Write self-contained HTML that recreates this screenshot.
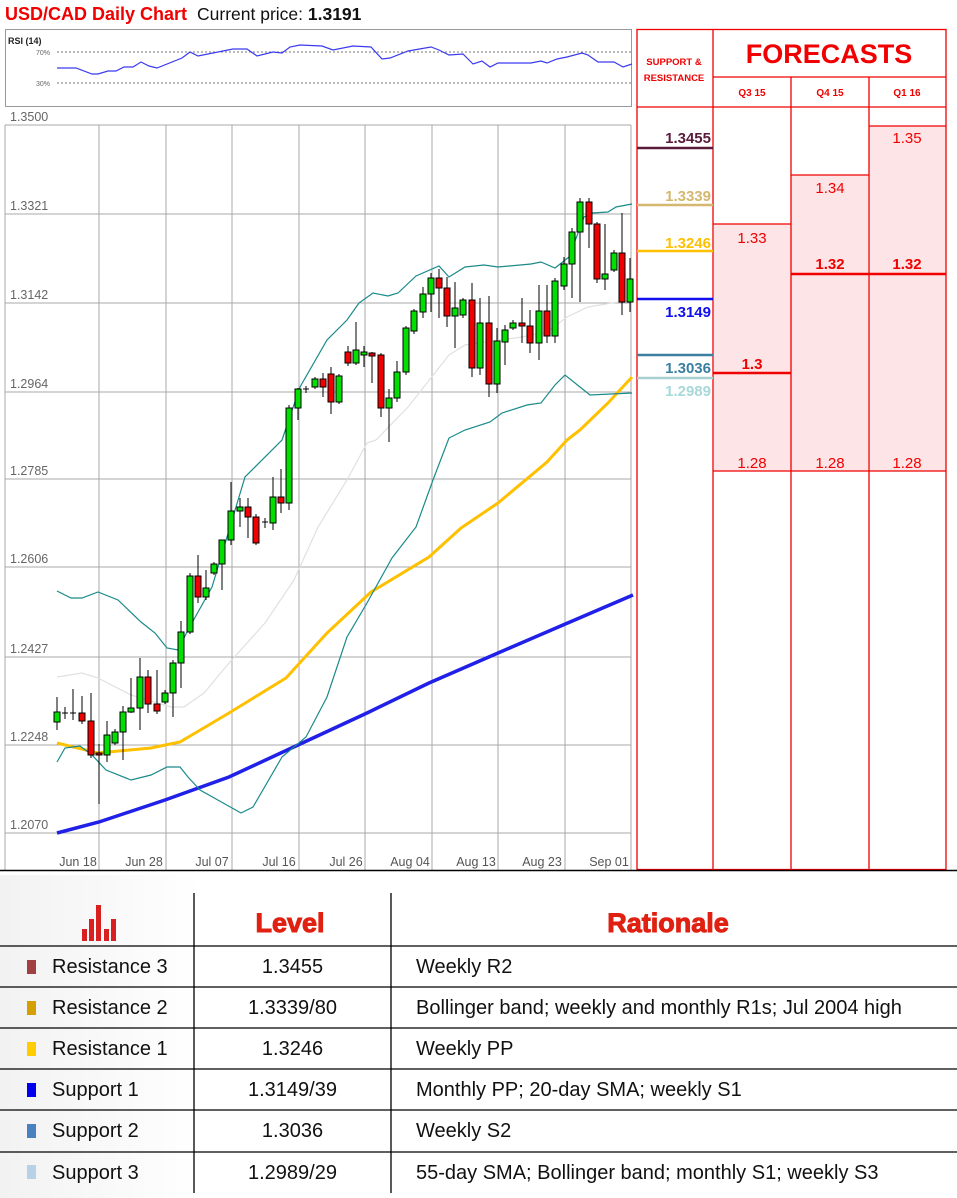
<!DOCTYPE html>
<html><head><meta charset="utf-8"><style>
body{margin:0;width:957px;height:1198px;background:#fff;overflow:hidden;font-family:"Liberation Sans",sans-serif;position:relative}
svg{position:absolute;left:0;top:0}
.t{position:absolute;font-size:20px;color:#111;line-height:20px;white-space:nowrap}
.c{text-align:center}
.sq{position:absolute;left:27px;width:9px;height:14px}
</style></head><body>
<div style="position:absolute;left:0;top:875px;width:200px;height:323px;background:linear-gradient(90deg,#f2f2f2,#fff)"></div>
<svg width="957" height="1198" viewBox="0 0 957 1198" font-family="Liberation Sans, sans-serif">
<text x="5" y="20" font-size="18" font-weight="bold" fill="#f00000">USD/CAD Daily Chart</text>
<text x="197" y="20" font-size="17.5" fill="#111">Current price: <tspan font-weight="bold">1.3191</tspan></text>
<rect x="5.5" y="29.5" width="626" height="77" fill="#fff" stroke="#999"/>
<text x="8" y="44" font-size="9" font-weight="bold" fill="#222">RSI (14)</text>
<line x1="57" y1="52" x2="631" y2="52" stroke="#777" stroke-dasharray="2,2"/>
<line x1="57" y1="83" x2="631" y2="83" stroke="#777" stroke-dasharray="2,2"/>
<text x="36" y="55" font-size="7" fill="#666">70%</text>
<text x="36" y="86" font-size="7" fill="#666">30%</text>
<polyline fill="none" stroke="#3a3af0" stroke-width="1.2" points="57,68 76,68 92,74 98,74 108,71 116,71 124,67 133,67 141,62 149,66 157,68 182,58 190,52 198,56 233,49 247,49 257,56 273,52 282,53 290,47 300,45 322,46 333,50 353,46 371,47 382,59 390,58 408,51 431,47 439,50 449,55 463,54 473,64 482,61 490,67 498,63 531,63 541,61 547,63 557,59 567,57 582,53 588,55 598,62 614,62 623,67 632,64"/>
<g stroke="#a8a8a8" stroke-width="1">
<line x1="5" y1="125" x2="631" y2="125"/><line x1="5" y1="214" x2="631" y2="214"/><line x1="5" y1="303" x2="631" y2="303"/><line x1="5" y1="392" x2="631" y2="392"/><line x1="5" y1="479" x2="631" y2="479"/><line x1="5" y1="567" x2="631" y2="567"/><line x1="5" y1="657" x2="631" y2="657"/><line x1="5" y1="745" x2="631" y2="745"/><line x1="5" y1="833" x2="631" y2="833"/>
<line x1="99" y1="125" x2="99" y2="870"/><line x1="166" y1="125" x2="166" y2="870"/><line x1="232" y1="125" x2="232" y2="870"/><line x1="299" y1="125" x2="299" y2="870"/><line x1="365" y1="125" x2="365" y2="870"/><line x1="432" y1="125" x2="432" y2="870"/><line x1="498" y1="125" x2="498" y2="870"/><line x1="565" y1="125" x2="565" y2="870"/>
<line x1="5" y1="125" x2="5" y2="870"/><line x1="631" y1="125" x2="631" y2="870"/>
</g>
<g font-size="12.5" fill="#666">
<text x="10" y="121">1.3500</text><text x="10" y="210">1.3321</text><text x="10" y="299">1.3142</text><text x="10" y="388">1.2964</text><text x="10" y="475">1.2785</text><text x="10" y="563">1.2606</text><text x="10" y="653">1.2427</text><text x="10" y="741">1.2248</text><text x="10" y="829">1.2070</text>
</g>
<g font-size="12.5" fill="#555" text-anchor="middle">
<text x="78" y="866">Jun 18</text><text x="144" y="866">Jun 28</text><text x="212" y="866">Jul 07</text><text x="279" y="866">Jul 16</text><text x="346" y="866">Jul 26</text><text x="410" y="866">Aug 04</text><text x="476" y="866">Aug 13</text><text x="542" y="866">Aug 23</text><text x="609" y="866">Sep 01</text>
</g>
<polyline fill="none" stroke="#e0e0e0" stroke-width="1.2" points="57,677 82,673 98,678 131,695 171,707 184,707 204,693 229,663 265,623 294,580 318,527 347,480 367,443 376,440 408,407 449,355 465,345 522,337 547,332 567,317 588,307 612,303 632,300"/>
<polyline fill="none" stroke="#2020e8" stroke-width="3.5" points="57,833 99,822 165,800 229,777 298,745 367,713 429,683 498,653 563,625 633,595"/>
<polyline fill="none" stroke="#ffc000" stroke-width="3" points="57,743 98,753 151,748 180,742 229,713 286,678 327,633 371,592 429,557 461,528 498,503 547,462 567,440 580,430 608,403 632,377"/>
<polyline fill="none" stroke="#1a8a8a" stroke-width="1.2" points="57,591 71,598 82,598 98,592 118,600 141,622 155,633 167,648 178,650 188,630 212,587 245,477 282,440 300,387 327,340 347,320 359,303 373,293 388,296 398,293 416,276 439,266 449,277 465,267 484,265 498,267 531,264 541,262 555,268 569,257 584,217 592,213 608,212 616,207 632,204"/>
<polyline fill="none" stroke="#1a8a8a" stroke-width="1.2" points="57,762 65,748 80,746 92,755 106,770 131,780 151,775 167,767 180,767 188,777 200,790 241,813 253,807 282,757 306,737 327,697 347,637 367,603 392,558 416,527 433,480 449,438 465,430 490,422 502,413 527,405 541,403 555,385 565,375 580,387 590,395 632,393"/>
<g stroke="#000" stroke-width="1">
<line x1="57" y1="697" x2="57" y2="730"/><rect x="54" y="712" width="6" height="10" fill="#00e000"/>
<line x1="65" y1="707" x2="65" y2="719"/><line x1="62" y1="713" x2="68" y2="713"/>
<line x1="73" y1="689" x2="73" y2="720"/><line x1="70" y1="713" x2="76" y2="713"/>
<line x1="82" y1="696" x2="82" y2="724"/><rect x="79" y="713" width="6" height="8" fill="#f00000"/>
<line x1="91" y1="693" x2="91" y2="758"/><rect x="88" y="721" width="6" height="34" fill="#f00000"/>
<line x1="99" y1="744" x2="99" y2="804"/><rect x="96" y="753" width="6" height="2" fill="#f00000"/>
<line x1="107" y1="721" x2="107" y2="762"/><rect x="104" y="735" width="6" height="20" fill="#00e000"/>
<line x1="115" y1="729" x2="115" y2="745"/><rect x="112" y="732" width="6" height="11" fill="#00e000"/>
<line x1="123" y1="706" x2="123" y2="760"/><rect x="120" y="712" width="6" height="20" fill="#00e000"/>
<line x1="131" y1="678" x2="131" y2="713"/><rect x="128" y="708" width="6" height="4" fill="#00e000"/>
<line x1="140" y1="658" x2="140" y2="730"/><rect x="137" y="677" width="6" height="31" fill="#00e000"/>
<line x1="148" y1="670" x2="148" y2="713"/><rect x="145" y="677" width="6" height="27" fill="#f00000"/>
<line x1="157" y1="670" x2="157" y2="714"/><rect x="154" y="704" width="6" height="7" fill="#f00000"/>
<line x1="165" y1="690" x2="165" y2="704"/><rect x="162" y="693" width="6" height="9" fill="#00e000"/>
<line x1="173" y1="660" x2="173" y2="717"/><rect x="170" y="663" width="6" height="30" fill="#00e000"/>
<line x1="181" y1="621" x2="181" y2="688"/><rect x="178" y="632" width="6" height="31" fill="#00e000"/>
<line x1="190" y1="573" x2="190" y2="634"/><rect x="187" y="576" width="6" height="56" fill="#00e000"/>
<line x1="198" y1="555" x2="198" y2="603"/><rect x="195" y="576" width="6" height="21" fill="#f00000"/>
<line x1="206" y1="570" x2="206" y2="600"/><rect x="203" y="588" width="6" height="9" fill="#00e000"/>
<line x1="214" y1="562" x2="214" y2="575"/><rect x="211" y="564" width="6" height="9" fill="#00e000"/>
<line x1="222" y1="540" x2="222" y2="590"/><rect x="219" y="540" width="6" height="24" fill="#00e000"/>
<line x1="231" y1="482" x2="231" y2="545"/><rect x="228" y="511" width="6" height="29" fill="#00e000"/>
<line x1="240" y1="498" x2="240" y2="527"/><rect x="237" y="507" width="6" height="4" fill="#00e000"/>
<line x1="248" y1="498" x2="248" y2="538"/><rect x="245" y="507" width="6" height="10" fill="#f00000"/>
<line x1="256" y1="514" x2="256" y2="545"/><rect x="253" y="517" width="6" height="26" fill="#f00000"/>
<line x1="265" y1="518" x2="265" y2="528"/><line x1="262" y1="522" x2="268" y2="522"/>
<line x1="273" y1="477" x2="273" y2="530"/><rect x="270" y="497" width="6" height="26" fill="#00e000"/>
<line x1="281" y1="469" x2="281" y2="513"/><rect x="278" y="497" width="6" height="6" fill="#f00000"/>
<line x1="289" y1="405" x2="289" y2="510"/><rect x="286" y="408" width="6" height="95" fill="#00e000"/>
<line x1="298" y1="388" x2="298" y2="420"/><rect x="295" y="389" width="6" height="19" fill="#00e000"/>
<line x1="306" y1="386" x2="306" y2="393"/><line x1="303" y1="389" x2="309" y2="389"/>
<line x1="315" y1="377" x2="315" y2="389"/><rect x="312" y="379" width="6" height="8" fill="#00e000"/>
<line x1="323" y1="373" x2="323" y2="397"/><rect x="320" y="379" width="6" height="8" fill="#f00000"/>
<line x1="331" y1="367" x2="331" y2="414"/><rect x="328" y="374" width="6" height="28" fill="#f00000"/>
<line x1="339" y1="374" x2="339" y2="404"/><rect x="336" y="376" width="6" height="26" fill="#00e000"/>
<line x1="348" y1="346" x2="348" y2="366"/><rect x="345" y="352" width="6" height="11" fill="#f00000"/>
<line x1="356" y1="322" x2="356" y2="365"/><rect x="353" y="350" width="6" height="13" fill="#00e000"/>
<line x1="364" y1="346" x2="364" y2="367"/><rect x="361" y="352" width="6" height="3" fill="#00e000"/>
<line x1="372" y1="352" x2="372" y2="383"/><rect x="369" y="353" width="6" height="3" fill="#f00000"/>
<line x1="381" y1="353" x2="381" y2="417"/><rect x="378" y="355" width="6" height="53" fill="#f00000"/>
<line x1="389" y1="389" x2="389" y2="442"/><rect x="386" y="398" width="6" height="10" fill="#00e000"/>
<line x1="397" y1="361" x2="397" y2="402"/><rect x="394" y="372" width="6" height="26" fill="#00e000"/>
<line x1="406" y1="326" x2="406" y2="375"/><rect x="403" y="328" width="6" height="44" fill="#00e000"/>
<line x1="414" y1="309" x2="414" y2="334"/><rect x="411" y="311" width="6" height="20" fill="#00e000"/>
<line x1="423" y1="287" x2="423" y2="318"/><rect x="420" y="294" width="6" height="18" fill="#00e000"/>
<line x1="431" y1="273" x2="431" y2="312"/><rect x="428" y="278" width="6" height="16" fill="#00e000"/>
<line x1="439" y1="269" x2="439" y2="318"/><rect x="436" y="278" width="6" height="10" fill="#f00000"/>
<line x1="447" y1="277" x2="447" y2="327"/><rect x="444" y="288" width="6" height="28" fill="#f00000"/>
<line x1="455" y1="282" x2="455" y2="348"/><rect x="452" y="308" width="6" height="8" fill="#00e000"/>
<line x1="463" y1="298" x2="463" y2="318"/><rect x="460" y="300" width="6" height="15" fill="#00e000"/>
<line x1="472" y1="283" x2="472" y2="377"/><rect x="469" y="300" width="6" height="68" fill="#f00000"/>
<line x1="480" y1="298" x2="480" y2="375"/><rect x="477" y="323" width="6" height="45" fill="#00e000"/>
<line x1="489" y1="296" x2="489" y2="397"/><rect x="486" y="323" width="6" height="61" fill="#f00000"/>
<line x1="497" y1="328" x2="497" y2="393"/><rect x="494" y="341" width="6" height="43" fill="#00e000"/>
<line x1="505" y1="325" x2="505" y2="365"/><rect x="502" y="330" width="6" height="12" fill="#00e000"/>
<line x1="513" y1="320" x2="513" y2="330"/><rect x="510" y="323" width="6" height="5" fill="#00e000"/>
<line x1="522" y1="298" x2="522" y2="343"/><rect x="519" y="323" width="6" height="3" fill="#f00000"/>
<line x1="530" y1="310" x2="530" y2="353"/><rect x="527" y="326" width="6" height="17" fill="#f00000"/>
<line x1="539" y1="285" x2="539" y2="360"/><rect x="536" y="311" width="6" height="32" fill="#00e000"/>
<line x1="547" y1="285" x2="547" y2="343"/><rect x="544" y="311" width="6" height="25" fill="#f00000"/>
<line x1="555" y1="278" x2="555" y2="343"/><rect x="552" y="281" width="6" height="55" fill="#00e000"/>
<line x1="564" y1="257" x2="564" y2="290"/><rect x="561" y="264" width="6" height="22" fill="#00e000"/>
<line x1="572" y1="228" x2="572" y2="298"/><rect x="569" y="232" width="6" height="32" fill="#00e000"/>
<line x1="580" y1="198" x2="580" y2="302"/><rect x="577" y="202" width="6" height="30" fill="#00e000"/>
<line x1="589" y1="198" x2="589" y2="248"/><rect x="586" y="202" width="6" height="22" fill="#f00000"/>
<line x1="597" y1="222" x2="597" y2="283"/><rect x="594" y="224" width="6" height="55" fill="#f00000"/>
<line x1="605" y1="224" x2="605" y2="290"/><rect x="602" y="274" width="6" height="5" fill="#00e000"/>
<line x1="614" y1="250" x2="614" y2="272"/><rect x="611" y="253" width="6" height="17" fill="#00e000"/>
<line x1="622" y1="213" x2="622" y2="315"/><rect x="619" y="253" width="6" height="49" fill="#f00000"/>
<line x1="630" y1="258" x2="630" y2="312"/><rect x="627" y="279" width="6" height="23" fill="#00e000"/>
</g>
<rect x="714" y="224" width="77" height="247" fill="#fde4e6"/>
<rect x="791" y="175" width="77" height="296" fill="#fde4e6"/>
<rect x="869" y="126" width="77" height="345" fill="#fde4e6"/>
<g stroke="#f00000" stroke-width="1.3">
<rect x="637" y="29.5" width="309" height="840" fill="none"/>
<line x1="713" y1="29" x2="713" y2="870"/><line x1="791" y1="77" x2="791" y2="870"/><line x1="869" y1="77" x2="869" y2="870"/>
<line x1="713" y1="77" x2="946" y2="77"/><line x1="637" y1="107" x2="946" y2="107"/>
<line x1="869" y1="126" x2="946" y2="126"/><line x1="791" y1="175" x2="869" y2="175"/><line x1="713" y1="224" x2="791" y2="224"/>
<line x1="713" y1="471" x2="946" y2="471"/>
</g>
<line x1="713" y1="373" x2="791" y2="373" stroke="#f00000" stroke-width="2.5"/>
<line x1="791" y1="274" x2="946" y2="274" stroke="#f00000" stroke-width="2.5"/>
<line x1="637" y1="148" x2="713" y2="148" stroke="#5a1a3a" stroke-width="2.5"/>
<line x1="637" y1="205" x2="713" y2="205" stroke="#d4b870" stroke-width="2.5"/>
<line x1="637" y1="251" x2="713" y2="251" stroke="#ffc000" stroke-width="2.5"/>
<line x1="637" y1="299" x2="713" y2="299" stroke="#1010ee" stroke-width="2.5"/>
<line x1="637" y1="355" x2="713" y2="355" stroke="#3a7fa0" stroke-width="2.5"/>
<line x1="637" y1="378" x2="713" y2="378" stroke="#a8d0d0" stroke-width="2.5"/>
<text x="674" y="65" font-size="9.5" font-weight="bold" fill="#f00000" text-anchor="middle">SUPPORT &amp;</text>
<text x="674" y="81" font-size="9.5" font-weight="bold" fill="#f00000" text-anchor="middle">RESISTANCE</text>
<text x="829" y="63" font-size="27" font-weight="bold" fill="#f00000" text-anchor="middle">FORECASTS</text>
<g font-size="10" font-weight="bold" fill="#f00000" text-anchor="middle"><text x="752" y="96">Q3 15</text><text x="830" y="96">Q4 15</text><text x="907" y="96">Q1 16</text></g>
<g font-size="15" font-weight="bold" text-anchor="end">
<text x="711" y="143" fill="#5a1a3a">1.3455</text>
<text x="711" y="201" fill="#d4b870">1.3339</text>
<text x="711" y="248" fill="#ffc000">1.3246</text>
<text x="711" y="317" fill="#1010ee">1.3149</text>
<text x="711" y="373" fill="#3a7fa0">1.3036</text>
<text x="711" y="396" fill="#a8d8d8">1.2989</text>
</g>
<g font-size="15" fill="#f00000" text-anchor="middle">
<text x="752" y="243">1.33</text><text x="752" y="468">1.28</text>
<text x="830" y="193">1.34</text><text x="830" y="468">1.28</text>
<text x="907" y="143">1.35</text><text x="907" y="468">1.28</text>
<text x="752" y="369" font-weight="bold">1.3</text><text x="830" y="269" font-weight="bold">1.32</text><text x="907" y="269" font-weight="bold">1.32</text>
</g>
<line x1="0" y1="870.5" x2="957" y2="870.5" stroke="#000" stroke-width="1.5"/>
<g stroke="#000" stroke-width="1.3">
<line x1="0" y1="946" x2="957" y2="946"/><line x1="0" y1="987" x2="957" y2="987"/><line x1="0" y1="1028" x2="957" y2="1028"/><line x1="0" y1="1069" x2="957" y2="1069"/><line x1="0" y1="1110" x2="957" y2="1110"/><line x1="0" y1="1152" x2="957" y2="1152"/>
<line x1="194" y1="893" x2="194" y2="1193"/><line x1="391" y1="893" x2="391" y2="1193"/>
</g>
<g fill="#d92020"><rect x="82" y="929" width="5" height="12"/><rect x="89" y="919" width="5" height="22"/><rect x="96" y="905" width="5" height="36"/><rect x="104" y="929" width="5" height="12"/><rect x="111" y="919" width="5" height="22"/></g>
<text x="290" y="932" font-size="27" font-weight="bold" fill="#e02010" text-anchor="middle" stroke="#e02010" stroke-width="1">Level</text>
<text x="668" y="932" font-size="27" font-weight="bold" fill="#e02010" text-anchor="middle" stroke="#e02010" stroke-width="1">Rationale</text>
</svg>
<div class="sq" style="top:960px;background:#a04040"></div>
<div class="sq" style="top:1001px;background:#d4a000"></div>
<div class="sq" style="top:1042px;background:#ffcc00"></div>
<div class="sq" style="top:1083px;background:#0000ee"></div>
<div class="sq" style="top:1124px;background:#4a80c0"></div>
<div class="sq" style="top:1165px;background:#b8d0e8"></div>
<div class="t" style="left:52px;top:957px">Resistance 3</div>
<div class="t" style="left:52px;top:998px">Resistance 2</div>
<div class="t" style="left:52px;top:1039px">Resistance 1</div>
<div class="t" style="left:52px;top:1080px">Support 1</div>
<div class="t" style="left:52px;top:1121px">Support 2</div>
<div class="t" style="left:52px;top:1163px">Support 3</div>
<div class="t c" style="left:194px;width:197px;top:957px">1.3455</div>
<div class="t c" style="left:194px;width:197px;top:998px">1.3339/80</div>
<div class="t c" style="left:194px;width:197px;top:1039px">1.3246</div>
<div class="t c" style="left:194px;width:197px;top:1080px">1.3149/39</div>
<div class="t c" style="left:194px;width:197px;top:1121px">1.3036</div>
<div class="t c" style="left:194px;width:197px;top:1163px">1.2989/29</div>
<div class="t" style="left:416px;top:957px">Weekly R2</div>
<div class="t" style="left:416px;top:998px">Bollinger band; weekly and monthly R1s; Jul 2004 high</div>
<div class="t" style="left:416px;top:1039px">Weekly PP</div>
<div class="t" style="left:416px;top:1080px">Monthly PP; 20-day SMA; weekly S1</div>
<div class="t" style="left:416px;top:1121px">Weekly S2</div>
<div class="t" style="left:416px;top:1163px">55-day SMA; Bollinger band; monthly S1; weekly S3</div>
</body></html>
